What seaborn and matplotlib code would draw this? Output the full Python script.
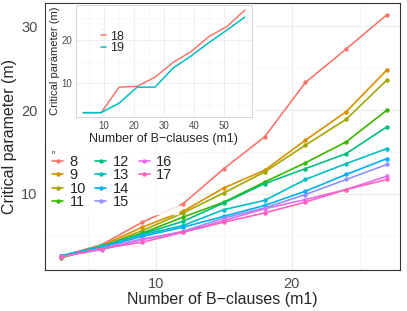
import pandas as pd
import matplotlib.pyplot as plt
from matplotlib.lines import Line2D
import seaborn as sns

# main chart data: critical parameter m vs number of B-clauses m1, one line per n
m1 = [3, 6, 9, 12, 15, 18, 21, 24, 27]
n_levels = ['8', '9', '10', '11', '12', '13', '14', '15', '16', '17']
m_n8 = [2.5, 3.9, 6.6, 8.8, 13.0, 16.8, 23.3, 27.3, 31.4]
m_n9 = [2.5, 3.8, 6.0, 7.9, 10.7, 12.8, 16.4, 19.8, 24.8]
m_n10 = [2.45, 3.7, 5.6, 7.7, 10.1, 12.6, 15.8, 18.9, 23.6]
m_n11 = [2.3, 3.7, 5.3, 7.2, 9.0, 11.4, 13.7, 16.2, 20.0]
m_n12 = [2.45, 3.7, 5.2, 6.7, 8.9, 11.2, 13.0, 14.8, 18.0]
m_n13 = [2.6, 3.7, 5.1, 6.2, 8.1, 9.2, 11.7, 13.6, 15.4]
m_n14 = [2.55, 3.6, 4.9, 6.0, 7.3, 8.6, 10.3, 12.3, 14.2]
m_n15 = [2.5, 3.3, 4.5, 5.5, 7.1, 8.3, 9.9, 11.7, 13.5]
m_n16 = [2.45, 3.45, 4.6, 5.4, 6.8, 8.2, 9.3, 10.5, 12.1]
m_n17 = [2.45, 3.45, 4.2, 5.4, 6.6, 7.7, 9.0, 10.5, 11.7]

# inset data
m1_inset = [3, 9, 15, 21, 27, 33, 39, 45, 51, 57]
inset_levels = ['18', '19']
m_n18 = [3.2, 3.2, 9.1, 9.3, 11.4, 14.8, 17.3, 20.8, 23.1, 26.9]
m_n19 = [3.2, 3.2, 5.4, 9.1, 9.1, 13.5, 16.3, 19.4, 22.3, 25.3]

main_series = [m_n8, m_n9, m_n10, m_n11, m_n12, m_n13, m_n14, m_n15, m_n16, m_n17]
rows = []
for lev, vals in zip(n_levels, main_series):
    for x, y in zip(m1, vals):
        rows.append({'m1': x, 'm': y, 'n': lev})
df = pd.DataFrame(rows)

rows = []
for lev, vals in zip(inset_levels, [m_n18, m_n19]):
    for x, y in zip(m1_inset, vals):
        rows.append({'m1': x, 'm': y, 'n': lev})
df_in = pd.DataFrame(rows)

gg10 = ['#F8766D', '#D89000', '#A3A500', '#39B600', '#00BF7D',
        '#00BFC4', '#00B0F6', '#9590FF', '#E76BF3', '#FF62BC']
gg2 = ['#F8766D', '#00BFC4']

sns.set_style('white')
plt.rcParams['font.family'] = ['Liberation Sans', 'DejaVu Sans']

fig = plt.figure(figsize=(4.07, 3.11), dpi=100)
ax = fig.add_axes([44.5 / 407, 1 - 270 / 311, (400 - 44.5) / 407, (270 - 3) / 311])

sns.lineplot(data=df, x='m1', y='m', hue='n', hue_order=n_levels, palette=gg10,
             marker='o', markersize=3.2, markeredgewidth=0, linewidth=1.2, ax=ax)

ax.set_xlim(1.8, 27.96)
ax.set_ylim(0.88, 32.8)
ax.set_xticks([10, 20])
ax.set_yticks([10, 20, 30])
ax.set_xticks([5, 15, 25], minor=True)
ax.set_yticks([5, 15, 25], minor=True)
ax.grid(which='major', color='#EBEBEB', linewidth=0.8)
ax.grid(which='minor', color='#F4F4F4', linewidth=0.5)
ax.set_axisbelow(True)
for s in ax.spines.values():
    s.set_color('#333333')
    s.set_linewidth(0.8)
ax.tick_params(which='major', length=3, width=0.6, color='#333333',
               labelsize=10.5, labelcolor='#4D4D4D', pad=2, direction='out')
ax.tick_params(which='minor', length=0)
ax.set_xlabel('Number of B\u2212clauses (m1)', fontsize=11.5, labelpad=1)
ax.set_ylabel('Critical parameter (m)', fontsize=11.5, labelpad=3)

# legend laid out 4 / 4 / 2 like the original
handles, labels = ax.get_legend_handles_labels()
ax.get_legend().remove()
blank = Line2D([], [], color='none')
handles = list(handles) + [blank, blank]
labels = list(labels) + ['', '']
leg = ax.legend(handles, labels, ncol=3, title='n', loc='upper left',
                bbox_to_anchor=(47 / 407, 1 - 145 / 311), bbox_transform=fig.transFigure,
                borderaxespad=0, fontsize=10.5, title_fontsize=4.5, frameon=True,
                handlelength=0.75, handletextpad=0.45, columnspacing=0.65,
                labelspacing=-0.03, borderpad=0.35, alignment='left', fancybox=False)
leg.get_frame().set_facecolor('white')
leg.get_frame().set_edgecolor('white')

# white backdrop behind the inset and its labels
bg = fig.add_axes([45.5 / 407, 1 - 143 / 311, (254 - 45.5) / 407, (143 - 4) / 311])
bg.set_facecolor('white')
bg.set_xticks([])
bg.set_yticks([])
for s in bg.spines.values():
    s.set_visible(False)

axin = fig.add_axes([76 / 407, 1 - 117 / 311, (251.7 - 76) / 407, (117 - 5) / 311])
sns.lineplot(data=df_in, x='m1', y='m', hue='n', hue_order=inset_levels, palette=gg2,
             linewidth=1.1, ax=axin)
axin.set_xlim(0.6, 59.3)
axin.set_ylim(2.2, 28.1)
axin.set_xticks([10, 20, 30, 40, 50])
axin.set_yticks([10, 20])
axin.set_xticks([5, 15, 25, 35, 45, 55], minor=True)
axin.set_yticks([5, 15, 25], minor=True)
axin.grid(which='major', color='#EBEBEB', linewidth=0.6)
axin.grid(which='minor', color='#F4F4F4', linewidth=0.4)
axin.set_axisbelow(True)
for s in axin.spines.values():
    s.set_color('#D0D0D0')
    s.set_linewidth(0.6)
axin.tick_params(which='major', length=1.5, width=0.4, color='#BBBBBB',
                 labelsize=7, labelcolor='#4D4D4D', pad=1.5)
axin.tick_params(which='minor', length=0)
axin.set_xlabel('Number of B\u2212clauses (m1)', fontsize=9, labelpad=1)
axin.set_ylabel('Critical parameter (m)', fontsize=8, labelpad=1)
handles, labels = axin.get_legend_handles_labels()
axin.get_legend().remove()
leg2 = axin.legend(handles, labels, title='.', loc='upper left',
                   bbox_to_anchor=(100 / 407, 1 - 25 / 311), bbox_transform=fig.transFigure,
                   borderaxespad=0, fontsize=9, title_fontsize=4, frameon=False,
                   handlelength=0.4, handletextpad=0.3, labelspacing=-0.05,
                   borderpad=0.1, alignment='left')

plt.savefig('out.png', dpi=100)
